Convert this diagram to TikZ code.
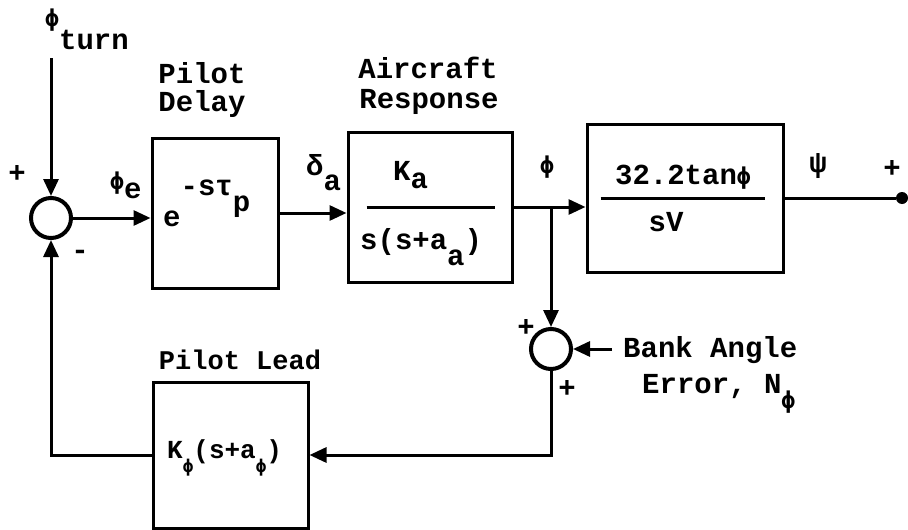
\documentclass[tikz,border=0pt]{standalone}
\usepackage{fontspec}
\usepackage{graphicx}
\setmainfont{Liberation Mono}
\newfontfamily\phifont{DejaVu Sans Mono}
\newcommand{\ph}{\scalebox{0.8}{\phifont ϕ}}
\usetikzlibrary{arrows.meta}
\begin{document}
\begin{tikzpicture}[x=1pt,y=-1pt,
  tt/.style={font=\fontsize{29}{31}\selectfont\bfseries, inner sep=0pt, anchor=base west},
  ttc/.style={tt, anchor=base},
  blk/.style={draw, line width=3pt, inner sep=0pt},
  sumc/.style={draw, circle, line width=4pt, minimum size=40pt, inner sep=0pt},
  con/.style={line width=3pt},
  arr/.style={con, -{Triangle[length=17pt,width=15pt]}},
  enddot/.style={circle, fill, minimum size=12pt, inner sep=0pt}
]
\useasboundingbox (0,0) rectangle (908,530);

% blocks and summing junctions
\node[sumc] (s1) at (51,218) {};
\node[blk, minimum width=126pt, minimum height=150pt] (d) at (215,213) {};
\node[blk, minimum width=164pt, minimum height=150pt] (a) at (430,207) {};
\node[blk, minimum width=196pt, minimum height=148pt] (b) at (685,198) {};
\node[blk, minimum width=155pt, minimum height=146pt] (l) at (230.5,455) {};
\node[sumc] (s2) at (551,349) {};
\node[enddot] (end) at (902,198) {};

\coordinate (tin) at (51,58);
\coordinate (br) at (s2.north |- a.east);
\coordinate (nin) at (612,349);

% connectors
\draw[arr] (tin) -- (s1.north);
\draw[arr] (s1.east) -- (s1.east -| d.west);
\draw[arr] (d.east) -- (d.east -| a.west);
\draw[arr] (a.east) -- (a.east -| b.west);
\draw[con] (b.east) -- (end);
\draw[arr] (br) -- (s2.north);
\draw[arr] (nin) -- (s2.east);
\draw[arr] (s2.south) |- (l.east);
\draw[arr] (l.west) -| (s1.south);

% fraction bars
\draw[con] ([xshift=20pt]a.west) -- ([xshift=-19pt]a.east);
\draw[con] ([xshift=15pt]b.west) -- ([xshift=-20pt]b.east);

% labels
\node[tt] (phiturn) at (45,26) {\ph\raisebox{-24pt}{turn}};
\node[ttc] (p1) at (17,182) {+};
\node[ttc] (m1) at (80,259) {-};
\node[tt] (phie) at (110,189) {\ph\raisebox{-9pt}{e}};
\node[ttc] (t1) at (202,83) {Pilot};
\node[ttc] (t2) at (202,111) {Delay};
\node[tt] (delay) at (163,226) {e\raisebox{31pt}{-sτ\raisebox{-16pt}{p}}};
\node[tt] (deltaa) at (306,175) {δ\raisebox{-15pt}{a}};
\node[ttc] (t3) at (428,78) {Aircraft};
\node[ttc] (t4) at (429,108) {Response};
\node[tt] (num2) at (393,180) {K\raisebox{-8pt}{a}};
\node[tt] (den2) at (360,249) {s(s+a\raisebox{-16pt}{a})};
\node[ttc] (phi) at (547,173) {\ph};
\node[ttc] (num3) at (683,184) {32.2tan\ph};
\node[ttc] (den3) at (666,231) {sV};
\node[ttc] (psi) at (818,172) {ψ};
\node[ttc] (p2) at (892,177) {+};
\node[ttc] (p3) at (526,336) {+};
\node[ttc] (p4) at (567,397) {+};
\node[tt] (t5) at (623,357) {Bank Angle};
\node[tt] (t6) at (642,393) {Error, N\raisebox{-15pt}{\ph}};
\node[ttc, font=\fontsize{27}{29}\selectfont\bfseries] (t7) at (240,369) {Pilot Lead};
\node[tt, font=\fontsize{26}{28}\selectfont\bfseries] (lead) at (167,458)
  {K\raisebox{-14pt}{\fontsize{22}{24}\selectfont\ph}(s+a\raisebox{-14pt}{\fontsize{22}{24}\selectfont\ph})};
\end{tikzpicture}
\end{document}
